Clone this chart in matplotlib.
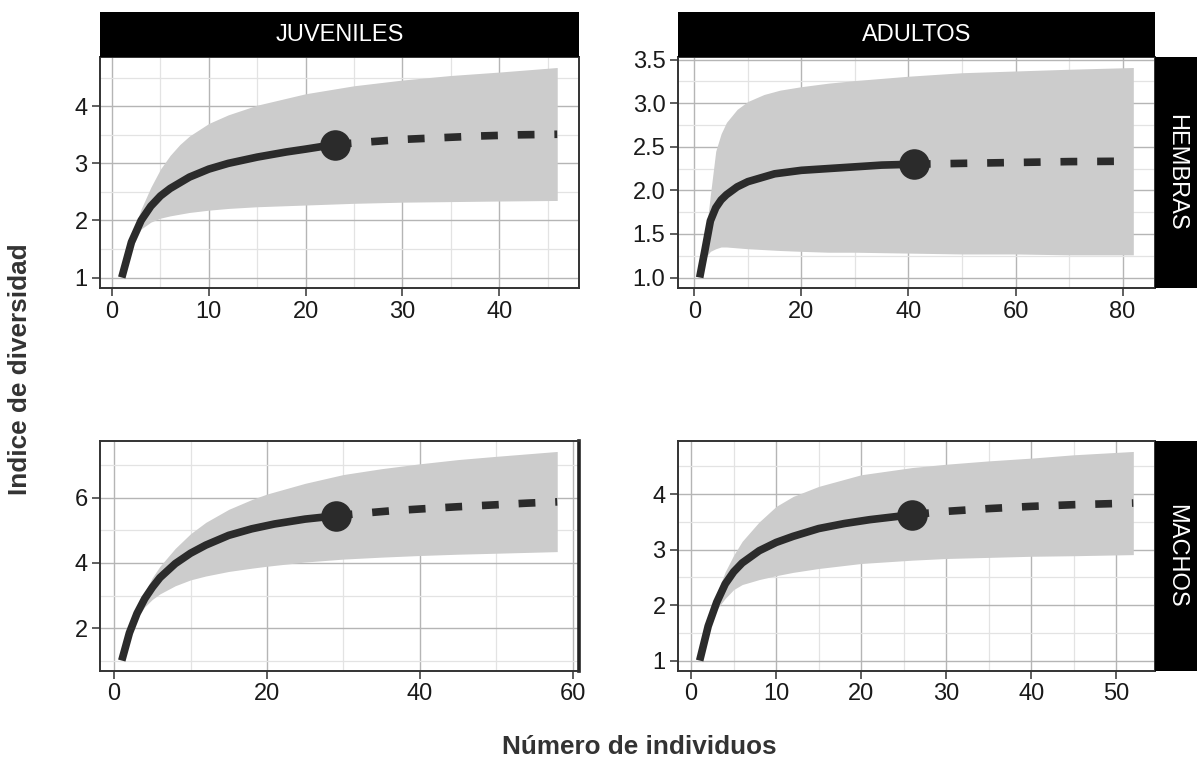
import matplotlib
matplotlib.use("Agg")
import matplotlib.pyplot as plt
from matplotlib.ticker import MultipleLocator

plt.rcParams['font.family'] = ['Liberation Sans', 'DejaVu Sans']

W, H = 1197, 765

# ---------------- data ----------------
col_labels = ["JUVENILES", "ADULTOS"]
row_labels = ["HEMBRAS", "MACHOS"]
x_label = "Número de individuos"
y_label = "Indice de diversidad"

# Juveniles / Hembras
jh_rare_m = [1, 2, 3, 4, 5, 6, 8, 10, 12, 15, 18, 20, 23]
jh_rare_q = [1.00, 1.62, 2.00, 2.25, 2.43, 2.56, 2.76, 2.90, 3.00, 3.11, 3.20, 3.25, 3.33]
jh_ext_m = [23, 26, 30, 34, 38, 42, 46]
jh_ext_q = [3.33, 3.37, 3.42, 3.45, 3.48, 3.50, 3.51]
jh_band_m = [1, 2, 3, 4, 5, 6, 7, 8, 10, 12, 15, 20, 25, 30, 35, 40, 46]
jh_band_lo = [1.00, 1.50, 1.85, 1.97, 2.04, 2.08, 2.11, 2.14, 2.18, 2.21, 2.24, 2.27, 2.30, 2.32, 2.33, 2.34, 2.35]
jh_band_hi = [1.00, 1.72, 2.20, 2.58, 2.90, 3.14, 3.33, 3.48, 3.70, 3.85, 4.02, 4.22, 4.36, 4.46, 4.54, 4.60, 4.68]

# Adultos / Hembras
ah_rare_m = [1, 2, 3, 4, 5, 6, 8, 10, 15, 20, 25, 30, 35, 41]
ah_rare_q = [1.00, 1.32, 1.65, 1.80, 1.89, 1.95, 2.04, 2.10, 2.19, 2.23, 2.25, 2.27, 2.29, 2.30]
ah_ext_m = [41, 50, 60, 70, 82]
ah_ext_q = [2.30, 2.31, 2.32, 2.33, 2.335]
ah_band_m = [1, 2, 3, 4, 5, 6, 8, 10, 13, 16, 20, 25, 30, 40, 50, 60, 70, 82]
ah_band_lo = [1.00, 1.22, 1.30, 1.33, 1.35, 1.35, 1.34, 1.33, 1.32, 1.31, 1.30, 1.29, 1.29, 1.28, 1.27, 1.27, 1.26, 1.26]
ah_band_hi = [1.00, 1.42, 1.95, 2.45, 2.65, 2.78, 2.93, 3.02, 3.10, 3.15, 3.19, 3.23, 3.26, 3.31, 3.35, 3.37, 3.39, 3.41]

# Juveniles / Machos
jm_rare_m = [1, 2, 3, 4, 5, 6, 8, 10, 12, 15, 18, 21, 25, 29]
jm_rare_q = [1.00, 1.85, 2.45, 2.90, 3.25, 3.55, 3.98, 4.30, 4.55, 4.85, 5.05, 5.20, 5.35, 5.45]
jm_ext_m = [29, 32, 36, 40, 45, 50, 54, 58]
jm_ext_q = [5.45, 5.52, 5.60, 5.66, 5.73, 5.79, 5.84, 5.88]
jm_band_m = [1, 2, 3, 4, 5, 6, 8, 10, 12, 15, 18, 20, 25, 30, 35, 40, 45, 50, 58]
jm_band_lo = [1.00, 1.75, 2.30, 2.65, 2.88, 3.05, 3.30, 3.48, 3.60, 3.74, 3.84, 3.90, 4.03, 4.12, 4.18, 4.23, 4.27, 4.30, 4.35]
jm_band_hi = [1.00, 1.95, 2.60, 3.10, 3.55, 3.90, 4.45, 4.90, 5.25, 5.65, 5.95, 6.12, 6.45, 6.72, 6.90, 7.05, 7.18, 7.28, 7.43]

# Adultos / Machos
am_rare_m = [1, 2, 3, 4, 5, 6, 8, 10, 12, 15, 18, 21, 26]
am_rare_q = [1.00, 1.62, 2.05, 2.38, 2.60, 2.76, 2.98, 3.13, 3.24, 3.38, 3.47, 3.54, 3.63]
am_ext_m = [26, 30, 35, 40, 45, 52]
am_ext_q = [3.63, 3.69, 3.74, 3.78, 3.81, 3.84]
am_band_m = [1, 2, 3, 4, 5, 6, 8, 10, 12, 15, 20, 26, 30, 35, 40, 45, 52]
am_band_lo = [1.00, 1.55, 1.92, 2.12, 2.28, 2.37, 2.46, 2.53, 2.59, 2.66, 2.75, 2.81, 2.84, 2.86, 2.88, 2.89, 2.91]
am_band_hi = [1.00, 1.70, 2.20, 2.60, 2.90, 3.15, 3.50, 3.78, 3.96, 4.14, 4.35, 4.48, 4.54, 4.60, 4.65, 4.71, 4.77]

# ticks per panel
jh_xticks = [0, 10, 20, 30, 40]; jh_yticks = [1, 2, 3, 4]
ah_xticks = [0, 20, 40, 60, 80]; ah_yticks = [1.0, 1.5, 2.0, 2.5, 3.0, 3.5]
jm_xticks = [0, 20, 40, 60];     jm_yticks = [2, 4, 6]
am_xticks = [0, 10, 20, 30, 40, 50]; am_yticks = [1, 2, 3, 4]

panels = [
    dict(rm=jh_rare_m, rq=jh_rare_q, em=jh_ext_m, eq=jh_ext_q, bm=jh_band_m, bl=jh_band_lo, bh=jh_band_hi,
         xt=jh_xticks, yt=jh_yticks, xminor=5, yminor=0.5, yfmt="{:.0f}", row=0, col=0),
    dict(rm=ah_rare_m, rq=ah_rare_q, em=ah_ext_m, eq=ah_ext_q, bm=ah_band_m, bl=ah_band_lo, bh=ah_band_hi,
         xt=ah_xticks, yt=ah_yticks, xminor=10, yminor=0.25, yfmt="{:.1f}", row=0, col=1),
    dict(rm=jm_rare_m, rq=jm_rare_q, em=jm_ext_m, eq=jm_ext_q, bm=jm_band_m, bl=jm_band_lo, bh=jm_band_hi,
         xt=jm_xticks, yt=jm_yticks, xminor=10, yminor=1, yfmt="{:.0f}", row=1, col=0),
    dict(rm=am_rare_m, rq=am_rare_q, em=am_ext_m, eq=am_ext_q, bm=am_band_m, bl=am_band_lo, bh=am_band_hi,
         xt=am_xticks, yt=am_yticks, xminor=5, yminor=0.5, yfmt="{:.0f}", row=1, col=1),
]

# ---------------- layout (pixels) ----------------
col_x = [(100, 579), (678, 1155)]
row_y = [(57, 288), (441, 671)]
strip_top = (12, 57)
strip_right = (1155, 1197)

def fig_rect(x0, x1, y0, y1):
    return [x0 / W, 1 - y1 / H, (x1 - x0) / W, (y1 - y0) / H]

fig = plt.figure(figsize=(W / 100, H / 100), dpi=100)

LINE_C = "#2b2b2b"
BAND_C = "#cccccc"
BORDER_C = "#333333"

for p in panels:
    x0, x1 = col_x[p["col"]]
    y0, y1 = row_y[p["row"]]
    ax = fig.add_axes(fig_rect(x0, x1, y0, y1))
    ax.set_facecolor("white")
    ax.fill_between(p["bm"], p["bl"], p["bh"], color=BAND_C, lw=0, zorder=2)
    ax.plot(p["em"], p["eq"], color=LINE_C, lw=5.5, ls=(0, (2.2, 2.6)),
            dash_capstyle="butt", zorder=3)
    ax.plot(p["rm"], p["rq"], color=LINE_C, lw=5.5, solid_capstyle="butt",
            solid_joinstyle="round", zorder=4)
    ax.plot([p["rm"][-1]], [p["rq"][-1]], "o", color=LINE_C, ms=22, mew=0, zorder=5)

    xmin, xmax = p["bm"][0], p["bm"][-1]
    dx = (xmax - xmin) * 0.05
    ax.set_xlim(xmin - dx, xmax + dx)
    ylo = min(p["bl"]); yhi = max(p["bh"])
    dy = (yhi - ylo) * 0.05
    ax.set_ylim(ylo - dy, yhi + dy)

    ax.set_xticks(p["xt"])
    ax.set_yticks(p["yt"])
    ax.set_yticklabels([p["yfmt"].format(v) for v in p["yt"]])
    ax.xaxis.set_minor_locator(MultipleLocator(p["xminor"]))
    ax.yaxis.set_minor_locator(MultipleLocator(p["yminor"]))
    ax.grid(which="major", color="#b5b5b5", lw=1.0, zorder=1)
    ax.grid(which="minor", color="#e3e3e3", lw=0.9, zorder=1)
    ax.set_axisbelow(True)
    ax.tick_params(which="major", direction="out", length=6, width=1.1, color=BORDER_C,
                   labelsize=17, labelcolor="#1a1a1a", pad=3)
    ax.tick_params(which="minor", length=0)
    for s in ax.spines.values():
        s.set_color(BORDER_C)
        s.set_linewidth(1.4)
    if p["row"] == 1 and p["col"] == 0:
        ax.spines["right"].set_linewidth(2.6)
        ax.spines["right"].set_color("#222222")

    # top strips
    if p["row"] == 0:
        sax = fig.add_axes(fig_rect(x0, x1, strip_top[0], strip_top[1]))
        sax.set_facecolor("black")
        sax.set_xticks([]); sax.set_yticks([])
        for s in sax.spines.values():
            s.set_visible(False)
        sax.text(0.5, 0.48, col_labels[p["col"]], color="white", fontsize=17,
                 ha="center", va="center", transform=sax.transAxes)
    # right strips
    if p["col"] == 1:
        rax = fig.add_axes(fig_rect(strip_right[0], strip_right[1], y0, y1))
        rax.set_facecolor("black")
        rax.set_xticks([]); rax.set_yticks([])
        for s in rax.spines.values():
            s.set_visible(False)
        rax.text(0.5, 0.5, row_labels[p["row"]], color="white", fontsize=17,
                 rotation=-90, ha="center", va="center", transform=rax.transAxes)

fig.text(20 / W, 1 - 369 / H, y_label, rotation=90, ha="center", va="center",
         fontsize=18.8, fontweight="bold", color="#333333")
fig.text(639 / W, 1 - 747 / H, x_label, ha="center", va="center",
         fontsize=18.8, fontweight="bold", color="#333333")

fig.savefig("out.png", dpi=100, facecolor="white")
